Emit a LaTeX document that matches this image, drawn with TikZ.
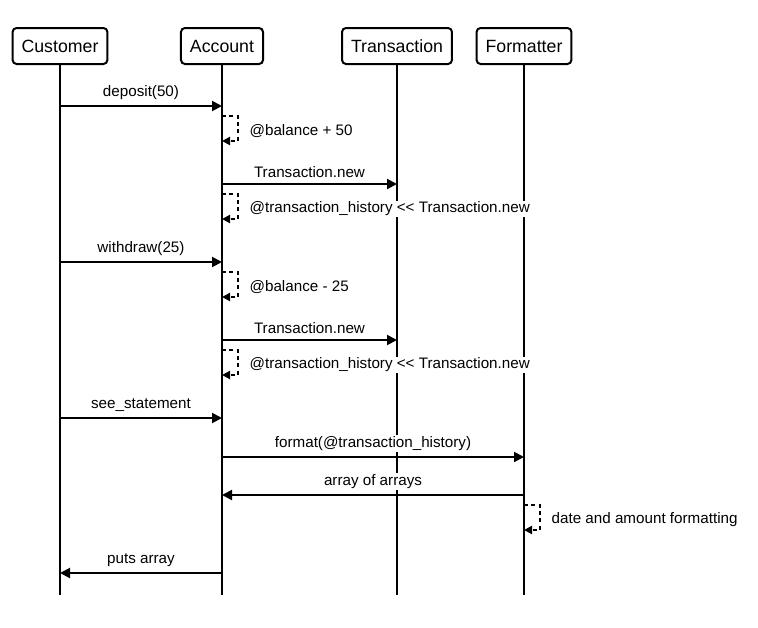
\documentclass[tikz,border=0pt]{standalone}
\usepackage{fontspec}
\setmainfont[Ligatures=NoCommon]{Liberation Sans}
\usetikzlibrary{arrows.meta,positioning,calc}

\begin{document}
\begin{tikzpicture}[
    x=0.75pt, y=-0.75pt, line width=1.5pt,
    actor/.style={draw, rounded corners=3pt, inner xsep=6.75pt,
                  minimum height=27pt, font=\fontsize{13.3}{15}\selectfont},
    lifeline/.style={line width=1.5pt},
    msg/.style={-{Triangle[length=7.5pt,width=7.5pt]}},
    selfmsg/.style={-{Triangle[length=6pt,width=6pt]}, dash pattern=on 3pt off 2.5pt},
    lbl/.style={font=\fontsize{11.4}{13}\selectfont, inner sep=1pt, fill=white}]
  \useasboundingbox (0,0) rectangle (758,628);
  %% Actors
  \node[actor] (cust)  at (60,46)  {Customer};
  \node[actor] (acct)  at (222,46) {Account};
  \node[actor] (trans) at (397,46) {Transaction};
  \node[actor] (fmt)   at (524,46) {Formatter};
  %% Lifelines
  \foreach \n in {cust,acct,trans,fmt}
    \draw[lifeline] (\n.south) -- (\n |- 0,595);
  %% Calls
  \foreach \a/\b/\y/\t in {cust/acct/106/deposit(50),
                           acct/trans/184/Transaction.new,
                           cust/acct/262/withdraw(25),
                           acct/trans/340/Transaction.new,
                           cust/acct/418/see\_statement,
                           acct/fmt/457/format(@transaction\_history),
                           fmt/acct/495/array of arrays,
                           acct/cust/573/puts array}
    \draw[msg] (\a |- 0,\y) -- node[lbl, above=3pt] {\t} (\b |- 0,\y);
  %% Self calls
  \foreach \a/\y/\t in {acct/116/@balance + 50,
                        acct/194/@transaction\_history {<}{<} Transaction.new,
                        acct/272/@balance - 25,
                        acct/350/@transaction\_history {<}{<} Transaction.new,
                        fmt/505/date and amount formatting}
    \draw[selfmsg] (\a |- 0,\y) -| ($(\a |- 0,\y)+(16,13)$)
      node[lbl, anchor=west, xshift=7pt, yshift=-1.5pt] {\t}
      |- ($(\a |- 0,\y)+(0,25)$);
\end{tikzpicture}
\end{document}
